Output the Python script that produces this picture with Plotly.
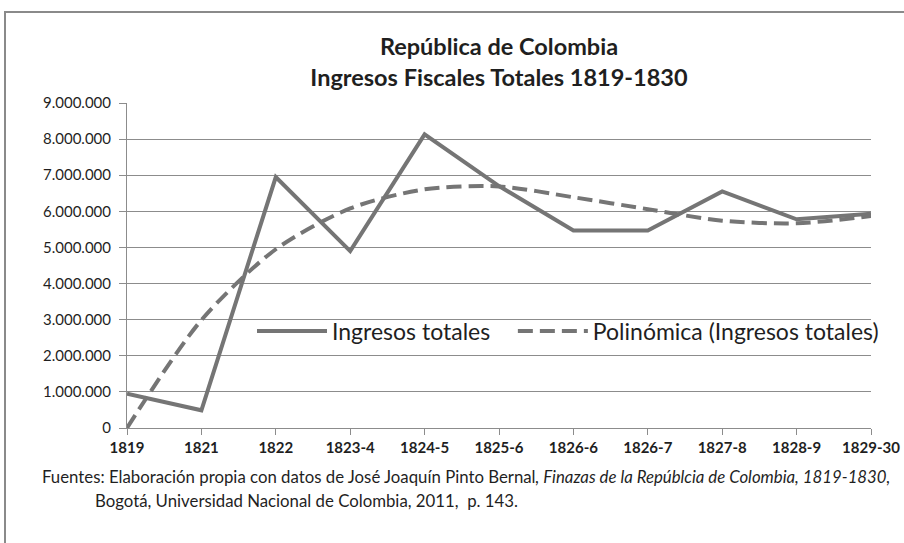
import plotly.graph_objects as go

categories = ["1819", "1821", "1822", "1823-4", "1824-5", "1825-6",
              "1826-6", "1826-7", "1827-8", "1828-9", "1829-30"]
ingresos = [950000, 490000, 6950000, 4900000, 8130000, 6700000,
            5470000, 5470000, 6550000, 5780000, 5930000]
tendencia = [0, 2990000, 4950000, 6080000, 6610000, 6690000,
             6390000, 6060000, 5740000, 5670000, 5870000]
y_ticks = [0, 1000000, 2000000, 3000000, 4000000, 5000000,
           6000000, 7000000, 8000000, 9000000]

LINE = "#757575"
TEXT = "#1f1f1f"
GRID = "#8c8c8c"
FONT = "Lato"
NB = "\u00a0"

fig = go.Figure()
fig.add_trace(go.Scatter(
    x=categories, y=ingresos, mode="lines", name="Ingresos totales" + NB * 3,
    line=dict(color=LINE, width=4)))
fig.add_trace(go.Scatter(
    x=categories, y=tendencia, mode="lines", name="Polinómica (Ingresos totales)",
    line=dict(color=LINE, width=4, dash="15px,7px", shape="spline", smoothing=0.8)))

fig.update_layout(
    width=904, height=543,
    margin=dict(l=127, r=33, t=103, b=115, autoexpand=False),
    paper_bgcolor="white", plot_bgcolor="white",
    separators=",.",
    font=dict(family=FONT, color=TEXT),
    title=dict(
        text="<b>República de Colombia</b><br><b>Ingresos Fiscales Totales 1819-1830</b>",
        x=(127 + 871) / 2 / 904, xanchor="center",
        y=1 - 55 / 543, yanchor="middle",
        font=dict(family=FONT, size=23.5, color=TEXT)),
    showlegend=True,
    legend=dict(
        orientation="h",
        x=(252 - 127) / 744, xanchor="left",
        y=(428 - 331) / 325, yanchor="middle",
        bgcolor="rgba(0,0,0,0)",
        font=dict(family=FONT, size=23, color=TEXT),
        itemwidth=70, tracegroupgap=0),
    xaxis=dict(
        type="category", range=[0, len(categories) - 1], automargin=False,
        showgrid=False, showline=True, linecolor=GRID, linewidth=1,
        ticks="outside", ticklen=6, tickcolor=GRID, tickwidth=1,
        tickfont=dict(family=FONT, size=15, color=TEXT),
        tickprefix="<b>", ticksuffix="</b>"),
    yaxis=dict(
        range=[0, 9000000], tickvals=y_ticks, tickformat=",d", automargin=False,
        showgrid=True, gridcolor=GRID, gridwidth=1,
        showline=True, linecolor=GRID, linewidth=1,
        ticks="outside", ticklen=7, tickcolor=GRID, tickwidth=1,
        ticklabelstandoff=5,
        tickfont=dict(family=FONT, size=15, color=TEXT),
        tickprefix="<b>", ticksuffix="</b>", zeroline=False),
)

# outer frame of the chart
fig.add_shape(type="rect", xref="paper", yref="paper",
              x0=(5 - 127) / 744, x1=(910 - 127) / 744,
              y0=(428 - 560) / 325, y1=(428 - 12) / 325,
              line=dict(color="#8a8a8a", width=2), layer="below")

fig.add_annotation(
    xref="paper", yref="paper", x=(40 - 127) / 744, y=(428 - 476) / 325,
    xanchor="left", yanchor="middle", showarrow=False,
    text="Fuentes: Elaboración propia con datos de José Joaquín Pinto Bernal<i>, "
         "Finazas de la Repúblcia de Colombia, 1819-1830,</i>",
    font=dict(family=FONT, size=16.8, color=TEXT))
fig.add_annotation(
    xref="paper", yref="paper", x=(93 - 127) / 744, y=(428 - 500) / 325,
    xanchor="left", yanchor="middle", showarrow=False,
    text="Bogotá, Universidad Nacional de Colombia, 2011,  p. 143.",
    font=dict(family=FONT, size=16.8, color=TEXT))

fig.write_html("out.html", config={"displayModeBar": False},
               post_script="document.body.style.margin='0';document.body.style.padding='0';")
